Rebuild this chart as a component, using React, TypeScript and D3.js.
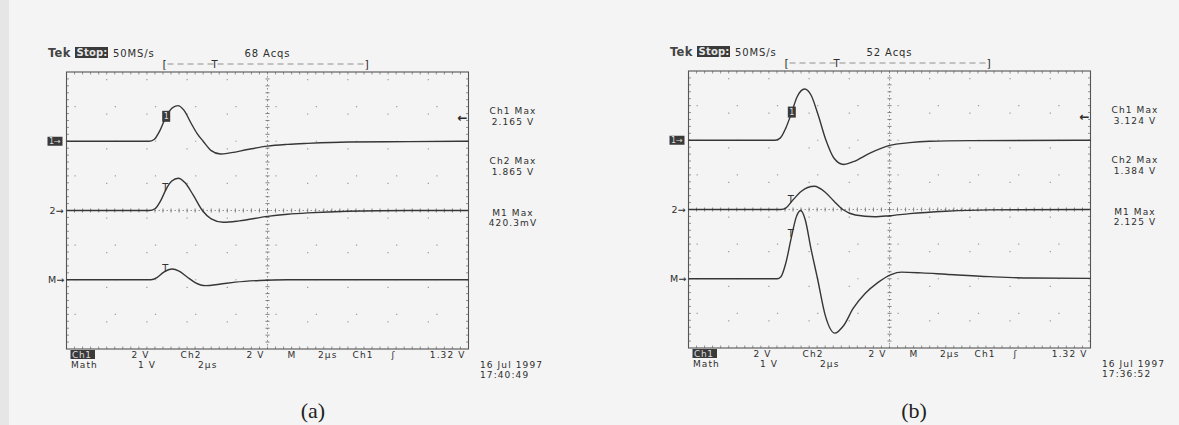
import * as d3 from "d3";

type Pt = [number, number]; // [time in divisions, level in divisions above the channel ground]

// ---- panel (a) ----
const ch1A: Pt[] = [[0, 0], [1.5, 0], [2.05, 0], [2.18, 0.05], [2.32, 0.3], [2.48, 0.72], [2.62, 0.95], [2.77, 1.03], [2.92, 0.9], [3.1, 0.52], [3.25, 0.22], [3.4, 0], [3.6, -0.27], [3.83, -0.37], [4.1, -0.33], [4.5, -0.24], [5.0, -0.14], [5.5, -0.09], [6.0, -0.06], [7.0, -0.02], [8.5, -0.01], [10, 0]];
const ch2A: Pt[] = [[0, 0], [1.5, 0], [2.06, 0], [2.2, 0.05], [2.35, 0.3], [2.48, 0.62], [2.62, 0.85], [2.78, 0.93], [2.95, 0.8], [3.15, 0.45], [3.38, 0], [3.6, -0.24], [3.9, -0.34], [4.3, -0.3], [5.0, -0.17], [5.5, -0.11], [6.0, -0.07], [7.0, -0.02], [8.5, 0], [10, 0]];
const mathA: Pt[] = [[0, 0], [1.5, 0], [2.1, 0], [2.25, 0.06], [2.42, 0.22], [2.63, 0.31], [2.8, 0.25], [3.0, 0.08], [3.2, -0.08], [3.46, -0.17], [3.8, -0.13], [4.2, -0.07], [4.8, -0.02], [5.5, 0], [10, 0]];

// ---- panel (b) ----
const ch1B: Pt[] = [[0, 0], [1.5, 0], [2.15, 0], [2.28, 0.06], [2.42, 0.35], [2.56, 0.78], [2.7, 1.25], [2.89, 1.48], [3.05, 1.3], [3.22, 0.75], [3.42, 0], [3.62, -0.52], [3.86, -0.7], [4.1, -0.62], [4.5, -0.38], [5.0, -0.15], [5.5, -0.07], [6.0, -0.03], [7.0, -0.01], [10, 0]];
const ch2B: Pt[] = [[0, 0], [1.5, 0], [2.3, 0], [2.42, 0.04], [2.58, 0.25], [2.8, 0.52], [3.13, 0.67], [3.4, 0.5], [3.62, 0.24], [3.84, 0], [4.15, -0.16], [4.63, -0.21], [5.0, -0.18], [5.5, -0.12], [6.4, -0.05], [7.5, -0.01], [10, 0]];
const mathB: Pt[] = [[0, 0], [1.5, 0], [2.2, 0], [2.3, 0.06], [2.42, 0.45], [2.56, 1.2], [2.68, 1.78], [2.79, 1.97], [2.9, 1.72], [3.05, 0.85], [3.21, 0], [3.4, -1.05], [3.64, -1.57], [3.86, -1.35], [4.1, -0.85], [4.4, -0.42], [4.7, -0.12], [5.04, 0.12], [5.3, 0.19], [5.8, 0.17], [6.4, 0.13], [7.5, 0.06], [8.5, 0.02], [10, 0.01]];

// ground positions of the three traces (divisions from screen centre)
const groundCh1 = 2;
const groundCh2 = 0;
const groundMath = -2;

const acqs = ["68 Acqs", "52 Acqs"];
const ch1Max = ["2.165 V", "3.124 V"];
const ch2Max = ["1.865 V", "1.384 V"];
const m1Max = ["420.3mV", "2.125 V"];
const dates = ["16 Jul 1997", "16 Jul 1997"];
const clock = ["17:40:49", "17:36:52"];
const captions = ["(a)", "(b)"];
const cursorT = [2.48, 2.57];

const sampleRate = "50MS/s";
const trigLevel = 1.32; // V
const ch1VoltsDiv = 2;
const row1 = ["2 V", "Ch2", "2 V", "M", "2µs", "Ch1", "ʃ", "1.32 V"];
const row2 = ["1 V", "2µs"];

const W = 1179;
const H = 425;
const BW = 402;
const BH = 277;
const INK = "#2e2e2e";
const FONT = "DejaVu Sans, Verdana, sans-serif";

interface ScopeProps {
  x0: number;
  y0: number;
  idx: number;
  traces: { pts: Pt[]; ground: number }[];
  captionX: number;
}

function Scope({ x0, y0, idx, traces, captionX }: ScopeProps) {
  const x = d3.scaleLinear().domain([0, 10]).range([0, BW]);
  const y = d3.scaleLinear().domain([-4, 4]).range([BH, 0]);
  const dotX = x(0.2);
  const dotY = BH / 40;

  const line = (g: number) =>
    d3
      .line<Pt>()
      .x((d) => x(d[0]))
      .y((d) => y(d[1] + g))
      .curve(d3.curveMonotoneX);

  // level of a trace at the cursor time (piecewise through the read points)
  const levelAt = (pts: Pt[], t: number) =>
    d3.scaleLinear().domain(pts.map((p) => p[0])).range(pts.map((p) => p[1]))(t);

  const tc = cursorT[idx];
  const [c1, c2, cm] = traces;
  const trigY = y(groundCh1 + trigLevel / ch1VoltsDiv);

  const txt = { fontFamily: FONT, fontSize: 10, letterSpacing: 0.9, fill: INK } as const;
  const small = { fontFamily: FONT, fontSize: 9, letterSpacing: 1.1, fill: INK } as const;
  const row1X = [65, 114, 180, 221, 251.5, 286, 325, 399];
  const row2X = [71.5, 131.5];

  return (
    <g>
      {/* header */}
      <g transform={`translate(${x0},${y0})`}>
        <text x={-18.5} y={-15.5} {...txt} fontSize={11.5} letterSpacing={0.3} fontWeight="bold" fill="#444">
          Tek
        </text>
        <rect x={8.5} y={-25} width={33} height={11} fill="#3a3a3a" />
        <text x={10} y={-16} {...txt} fontSize={10} letterSpacing={0.2} fill="#e8e8e8" fontWeight="bold">
          Stop:
        </text>
        <text x={46.5} y={-15.5} {...txt}>
          {sampleRate}
        </text>
        <text x={178} y={-15.5} {...txt}>
          {acqs[idx]}
        </text>
        <line x1={101} x2={300} y1={-8} y2={-8} stroke="#777" strokeWidth={0.8} strokeDasharray="6 4" />
        <text x={98.5} y={-4.5} {...txt} fontSize={11} textAnchor="middle">[</text>
        <text x={148.5} y={-4.5} {...txt} fontSize={10} textAnchor="middle">T</text>
        <text x={300.5} y={-4.5} {...txt} fontSize={11} textAnchor="middle">]</text>
      </g>

      <g transform={`translate(${x0},${y0})`}>
        {/* graticule */}
        {d3.range(1, 10).filter((i) => i !== 5).map((i) => (
          <line key={"v" + i} x1={x(i)} x2={x(i)} y1={dotY} y2={BH} stroke="#9a9a9a" strokeWidth={1.2}
            strokeDasharray={`1.2 ${dotY * 5 - 1.2}`} />
        ))}
        {d3.range(-3, 4).filter((j) => j !== 0).map((j) => (
          <line key={"h" + j} x1={dotX} x2={BW} y1={y(j)} y2={y(j)} stroke="#9a9a9a" strokeWidth={1.2}
            strokeDasharray={`1.2 ${dotX * 5 - 1.2}`} />
        ))}
        {/* centre axes with minor ticks */}
        <line x1={x(5)} x2={x(5)} y1={0} y2={BH} stroke="#888" strokeWidth={0.9} strokeDasharray="1.5 2.5" />
        <line x1={0} x2={BW} y1={y(0)} y2={y(0)} stroke="#888" strokeWidth={0.9} strokeDasharray="1.5 2.5" />
        {d3.range(1, 40).map((k) => (
          <line key={"ty" + k} x1={x(5) - 2} x2={x(5) + 2} y1={k * dotY} y2={k * dotY} stroke="#777" strokeWidth={0.9} />
        ))}
        {d3.range(1, 50).map((k) => (
          <line key={"tx" + k} x1={k * dotX} x2={k * dotX} y1={y(0) - 2} y2={y(0) + 2} stroke="#777" strokeWidth={0.9} />
        ))}
        {/* edge ticks */}
        {d3.range(1, 50).map((k) => (
          <g key={"e" + k} stroke="#777" strokeWidth={0.8}>
            <line x1={k * dotX} x2={k * dotX} y1={0} y2={2.5} />
            <line x1={k * dotX} x2={k * dotX} y1={BH - 2.5} y2={BH} />
          </g>
        ))}
        {d3.range(1, 40).map((k) => (
          <g key={"f" + k} stroke="#777" strokeWidth={0.8}>
            <line x1={0} x2={2.5} y1={k * dotY} y2={k * dotY} />
            <line x1={BW - 2.5} x2={BW} y1={k * dotY} y2={k * dotY} />
          </g>
        ))}
        <rect x={0} y={0} width={BW} height={BH} fill="none" stroke="#555" strokeWidth={1.1} />

        {/* traces */}
        {traces.map((t, i) => (
          <path key={i} d={line(t.ground)(t.pts) ?? ""} fill="none" stroke="#363636" strokeWidth={1.4} />
        ))}

        {/* cursor markers on the traces */}
        <rect x={x(tc) - 4} y={y(levelAt(c1.pts, tc) + c1.ground) - 5.5} width={8} height={11} fill="#3a3a3a" />
        <text x={x(tc)} y={y(levelAt(c1.pts, tc) + c1.ground) + 3} textAnchor="middle" fontFamily={FONT} fontSize={8} fill="#ddd">1</text>
        <text x={x(tc) - 1} y={y(levelAt(c2.pts, tc) + c2.ground) + 2} textAnchor="middle" fontFamily={FONT} fontSize={10} fill="#333">T</text>
        <text x={x(tc) - 1} y={y(levelAt(cm.pts, tc) + cm.ground) + 1} textAnchor="middle" fontFamily={FONT} fontSize={10} fill="#333">T</text>

        {/* trigger level arrow */}
        <text x={BW - 1} y={trigY + 4} textAnchor="end" fontFamily={FONT} fontSize={12} fontWeight="bold" fill={INK}>←</text>

        {/* channel ground markers */}
        <rect x={-19} y={y(groundCh1) - 4.5} width={15} height={9} fill="#3a3a3a" />
        <text x={-17.5} y={y(groundCh1) + 3} fontFamily={FONT} fontSize={8} fill="#ddd">1→</text>
        <text x={-17} y={y(groundCh2) + 3.5} fontFamily={FONT} fontSize={9.5} fill={INK}>2→</text>
        <text x={-18.5} y={y(groundMath) + 3.5} fontFamily={FONT} fontSize={9.5} fill={INK}>M→</text>

        {/* readouts at right */}
        <g textAnchor="middle">
          <text x={BW + 44.5} y={42} {...small}>Ch1 Max</text>
          <text x={BW + 44.5} y={52.5} {...small}>{ch1Max[idx]}</text>
          <text x={BW + 44.5} y={92} {...small}>Ch2 Max</text>
          <text x={BW + 44.5} y={102.5} {...small}>{ch2Max[idx]}</text>
          <text x={BW + 44.5} y={143.5} {...small}>M1 Max</text>
          <text x={BW + 44.5} y={154} {...small}>{m1Max[idx]}</text>
        </g>

        {/* bottom readouts */}
        <rect x={4} y={BH + 1} width={24.5} height={9} fill="#3a3a3a" />
        <text x={5.5} y={BH + 8.5} {...small} letterSpacing={0.6} fill="#ddd">Ch1</text>
        {row1.map((s, i) => (
          <text key={"r1" + i} x={row1X[i]} y={BH + 8.5} {...small} textAnchor={i === row1.length - 1 ? "end" : "start"}>
            {s}
          </text>
        ))}
        <text x={4.5} y={BH + 19} {...small}>Math</text>
        {row2.map((s, i) => (
          <text key={"r2" + i} x={row2X[i]} y={BH + 19} {...small}>
            {s}
          </text>
        ))}
        <text x={413.5} y={BH + 18.5} {...small}>{dates[idx]}</text>
        <text x={413.5} y={BH + 29} {...small}>{clock[idx]}</text>
      </g>

      <text x={captionX} y={418} textAnchor="middle" fontFamily="Liberation Serif, Times New Roman, serif" fontSize={22} fill="#222">
        {captions[idx]}
      </text>
    </g>
  );
}

export default function App() {
  return (
    <svg width={W} height={H} style={{ position: "fixed", left: 0, top: 0, background: "#f4f4f4" }}>
      <rect x={0} y={0} width={W} height={H} fill="#f4f4f4" />
      <rect x={0} y={0} width={9} height={H} fill="#e6e6e6" />
      <Scope
        x0={66.5}
        y0={72}
        idx={0}
        captionX={313}
        traces={[
          { pts: ch1A, ground: groundCh1 },
          { pts: ch2A, ground: groundCh2 },
          { pts: mathA, ground: groundMath },
        ]}
      />
      <Scope
        x0={688.5}
        y0={71}
        idx={1}
        captionX={914}
        traces={[
          { pts: ch1B, ground: groundCh1 },
          { pts: ch2B, ground: groundCh2 },
          { pts: mathB, ground: groundMath },
        ]}
      />
    </svg>
  );
}
